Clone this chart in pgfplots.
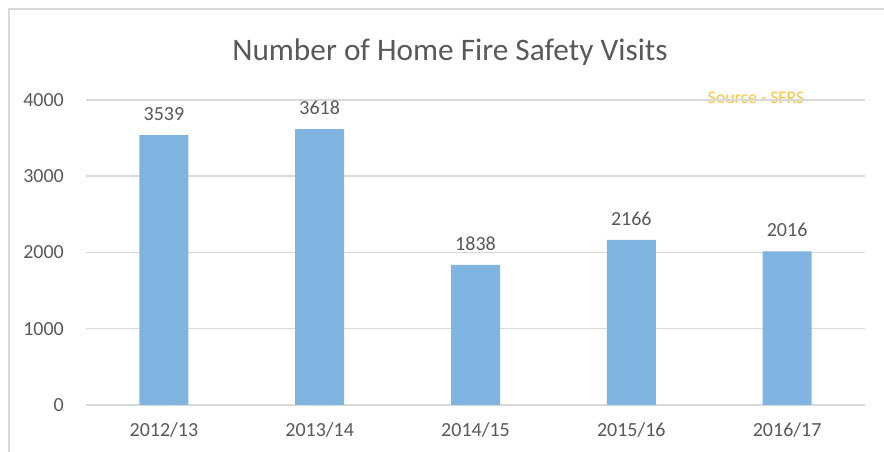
\documentclass[border=0pt]{standalone}
\usepackage{pgfplots}
\pgfplotsset{compat=1.18}
\usepackage{fontspec}
\setmainfont{Carlito}
\definecolor{bar}{RGB}{127,179,224}
\definecolor{txt}{RGB}{89,89,89}
\definecolor{grid}{RGB}{217,217,217}
\definecolor{src}{RGB}{255,196,60}
\begin{document}
\begin{tikzpicture}[x=1pt,y=1pt]
\useasboundingbox (0,0) rectangle (884,452);
\fill[white] (0,0) rectangle (884,452);
\draw[grid, line width=1.5pt] (9,0) -- (9,443) -- (884,443);
\node[txt, font=\fontsize{31.3}{36}\selectfont] at (450,400) {Number of Home Fire Safety Visits};
\node[src, font=\fontsize{17.7}{20}\selectfont] at (756,354) {Source - SFRS};
\begin{axis}[
  at={(86pt,47pt)}, anchor=south west,
  scale only axis, width=779pt, height=305pt,
  xmin=-0.5, xmax=4.5, ymin=0, ymax=4000,
  axis line style={draw=none},
  tick style={draw=none},
  ytick={0,1000,2000,3000,4000},
  xtick=data,
  xticklabels={2012/13,2013/14,2014/15,2015/16,2016/17},
  major tick length=0pt,
  xmajorgrids=false,
  ymajorgrids=true,
  y grid style={grid, line width=1.5pt},
  /pgf/number format/assume math mode=true,
  /pgf/number format/1000 sep={},
  ticklabel style={font=\fontsize{20}{24}\selectfont, text=txt},
  yticklabel style={inner sep=0pt, anchor=east, xshift=-22pt},
  xticklabel style={inner sep=0pt, anchor=north, yshift=-17pt},
  clip=false,
]
\addplot[ybar, bar width=49pt, fill=bar, draw=none,
  nodes near coords,
  nodes near coords style={font=\fontsize{20}{24}\selectfont, text=txt, inner sep=0pt, anchor=south, yshift=14pt},
] coordinates {(0,3539) (1,3618) (2,1838) (3,2166) (4,2016)};
\end{axis}
\end{tikzpicture}
\end{document}
